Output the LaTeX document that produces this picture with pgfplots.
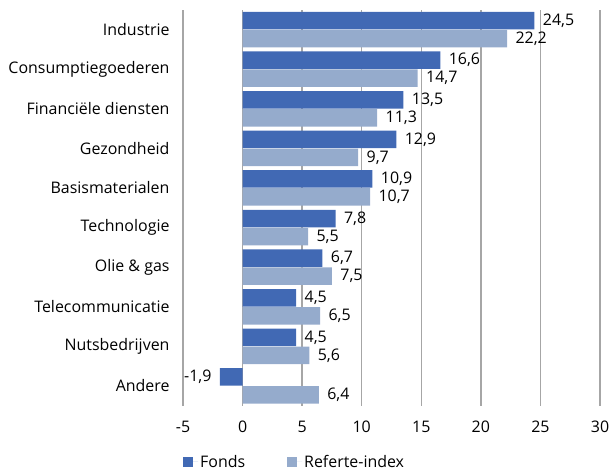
\documentclass[border=0pt]{standalone}
\usepackage{pgfplots}
\pgfplotsset{compat=1.18}
\usepackage{fontspec}
\setmainfont{Open Sans}
\definecolor{fonds}{HTML}{4169B4}
\definecolor{refidx}{HTML}{95ABCC}
\definecolor{gridc}{HTML}{A6A6A6}
\begin{document}
\begin{tikzpicture}
\path[use as bounding box] (0,0) rectangle (611bp,475bp);
\begin{axis}[
  at={(183bp,69.2bp)}, anchor=south west,
  scale only axis, width=417bp, height=396bp,
  xbar, bar width=17.5bp,
  xmin=-5, xmax=30, xtick={-5,0,...,30},
  ymin=-0.5, ymax=9.5, ytick={0,...,9},
  yticklabels={Andere, Nutsbedrijven, Telecommunicatie, Olie \& gas, Technologie, Basismaterialen, Gezondheid, Financiële diensten, Consumptiegoederen, Industrie},
  axis line style={draw=none},
  major tick length=0pt,
  xmajorgrids, grid style={gridc, line width=1.3bp},
  font=\fontsize{16}{19}\selectfont,
  /pgf/number format/assume math mode=true,
  yticklabel style={xshift=-10bp},
  xticklabel style={yshift=-12bp},
  visualization depends on={x \as \myx},
  nodes near coords={\pgfmathprintnumber[fixed,fixed zerofill,precision=1,use comma]{\pgfplotspointmeta}},
  nodes near coords align=horizontal,
  every node near coord/.append style={font=\fontsize{16}{19}\selectfont, text=black, xshift={5*sign(\myx)}},
  legend style={at={(0,0)}, anchor=west, yshift=-56bp, draw=none, fill=none, inner sep=0pt,
    font=\fontsize{16}{19}\selectfont,
    /tikz/every even column/.append style={column sep=40bp}},
  legend columns=2,
  legend image code/.code={\fill[#1] (0bp,-5bp) rectangle (10bp,5bp); \path (0bp,0bp) -- (15bp,0bp);},
]
\addplot+[xbar, bar shift=9bp, fill=fonds, draw=none] coordinates {
  (-1.9,0) (4.5,1) (4.5,2) (6.7,3) (7.8,4) (10.9,5) (12.9,6) (13.5,7) (16.6,8) (24.5,9)};
\addplot+[xbar, bar shift=-9bp, fill=refidx, draw=none] coordinates {
  (6.4,0) (5.6,1) (6.5,2) (7.5,3) (5.5,4) (10.7,5) (9.7,6) (11.3,7) (14.7,8) (22.2,9)};
\legend{Fonds, Referte-index}
\end{axis}
\end{tikzpicture}
\end{document}
